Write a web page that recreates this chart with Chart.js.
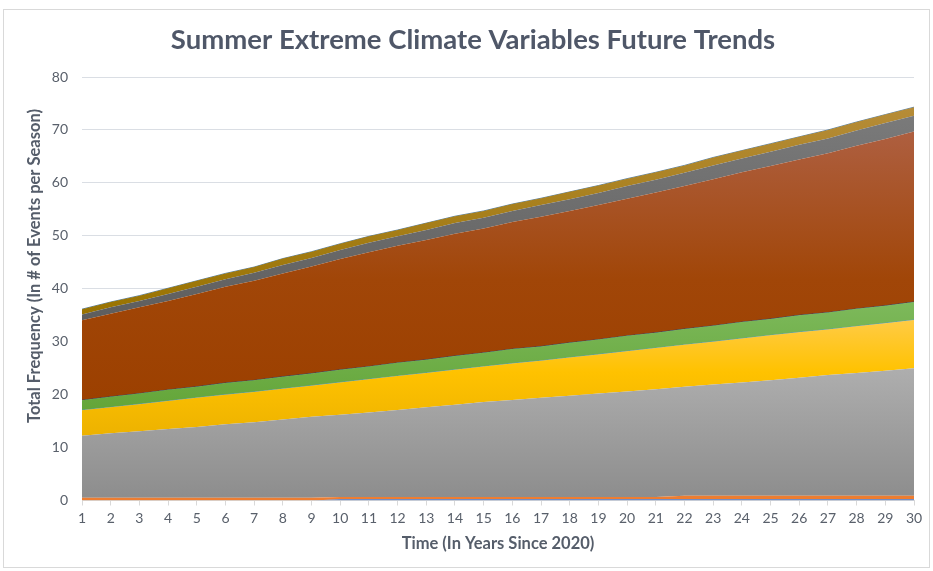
<!DOCTYPE html>
<html>
<head>
<meta charset="utf-8">
<title>Summer Extreme Climate Variables Future Trends</title>
<script src="https://cdn.jsdelivr.net/npm/chart.js@4.4.1/dist/chart.umd.min.js"></script>
<style>
  html, body { margin: 0; padding: 0; background: #ffffff; }
  #wrap { width: 933px; height: 571px; position: relative; }
</style>
</head>
<body>
<div id="wrap"><canvas id="chart" width="933" height="571"></canvas></div>
<script>
// Years since 2020 (category labels)
const years = ['1','2','3','4','5','6','7','8','9','10','11','12','13','14','15',
               '16','17','18','19','20','21','22','23','24','25','26','27','28','29','30'];

const chartTitle = 'Summer Extreme Climate Variables Future Trends';
const xTitle = 'Time (In Years Since 2020)';
const yTitle = 'Total Frequency (In # of Events per Season)';

// Events per season, one array per series (stacked bottom to top)
const series1 = [0,0,0,0,0,0,0,0,0,0.25,0.25,0.25,0.25,0.25,0.25,0.25,0.25,0.25,0.25,0.25,0.25,0.25,0.25,0.25,0.25,0.25,0.25,0.25,0.25,0.25];
const series2 = [0.5,0.5,0.5,0.5,0.5,0.5,0.5,0.5,0.5,0.4,0.4,0.4,0.4,0.4,0.4,0.4,0.4,0.4,0.4,0.4,0.4,0.65,0.65,0.65,0.65,0.65,0.65,0.65,0.65,0.65];
const series3 = [11.75,12.2,12.6,13.0,13.4,13.9,14.3,14.8,15.3,15.55,15.95,16.45,16.95,17.45,17.95,18.35,18.75,19.15,19.55,19.95,20.35,20.6,21.0,21.4,21.8,22.3,22.8,23.2,23.6,24.1];
const series4 = [4.8,4.9,5.1,5.3,5.5,5.6,5.7,5.8,5.9,6.1,6.3,6.4,6.5,6.6,6.7,6.9,7.0,7.2,7.4,7.6,7.8,7.9,8.1,8.3,8.5,8.6,8.6,8.8,9.0,9.1];
const series5 = [0,0,0,0,0,0,0,0,0,0,0,0,0,0,0,0,0,0,0,0,0,0,0,0,0,0,0,0,0,0];
const series6 = [1.9,2.0,2.0,2.1,2.1,2.2,2.2,2.3,2.3,2.4,2.4,2.5,2.5,2.6,2.6,2.7,2.7,2.8,2.8,2.9,2.9,3.0,3.0,3.1,3.1,3.2,3.2,3.3,3.3,3.4];
const series7 = [0,0,0,0,0,0,0,0,0,0,0,0,0,0,0,0,0,0,0,0,0,0,0,0,0,0,0,0,0,0];
const series8 = [15.1,15.7,16.3,16.8,17.5,18.2,18.8,19.5,20.2,20.9,21.6,22.1,22.6,23.1,23.5,24.0,24.5,24.9,25.4,25.9,26.5,27.0,27.7,28.3,28.9,29.4,30.1,30.8,31.5,32.2];
const series9 = [1.1,1.2,1.2,1.3,1.4,1.4,1.5,1.6,1.6,1.7,1.8,1.8,1.9,2.0,2.0,2.1,2.2,2.2,2.3,2.4,2.4,2.5,2.6,2.6,2.7,2.8,2.8,2.9,3.0,3.0];
const series10 = [1.0,1.0,1.0,1.1,1.1,1.1,1.1,1.2,1.2,1.2,1.2,1.2,1.3,1.3,1.3,1.3,1.3,1.4,1.4,1.4,1.4,1.4,1.5,1.5,1.5,1.5,1.6,1.6,1.6,1.6];
const series11 = [0,0,0,0,0,0,0,0,0,0,0,0,0,0,0,0,0,0,0,0,0,0,0,0,0,0,0,0,0,0];

const yTicks = { min: 0, max: 80, step: 10 };

const stackOrder = [series1, series2, series3, series4, series5, series6,
                    series7, series8, series9, series10, series11];

const fontFamily = 'Lato, "Open Sans", sans-serif';

// Vertical gradient spanning the band of one stacked series
function bandGradient(stops, index) {
  return function (ctx) {
    const chart = ctx.chart;
    const y = chart.scales && chart.scales.y;
    if (!chart.chartArea || !y) return stops[stops.length - 1][1];
    let lo = Infinity, hi = -Infinity;
    for (let i = 0; i < years.length; i++) {
      let base = 0;
      for (let s = 0; s < index; s++) base += stackOrder[s][i];
      const top = base + stackOrder[index][i];
      lo = Math.min(lo, base);
      hi = Math.max(hi, top);
    }
    const yTop = y.getPixelForValue(hi);
    const yBot = y.getPixelForValue(lo);
    const g = chart.ctx.createLinearGradient(0, yTop, 0, yBot);
    stops.forEach(([p, c]) => g.addColorStop(p, c));
    return g;
  };
}

function band(label, data, index, fill, extra) {
  return Object.assign({
    label, data,
    fill: index === 0 ? 'origin' : '-1',
    backgroundColor: fill,
    borderWidth: 0,
    pointRadius: 0,
    pointHoverRadius: 0,
    tension: 0
  }, extra || {});
}

const datasets = [
  band('Series 1', series1, 0, '#4472C4'),
  band('Series 2', series2, 1, '#ED7D31'),
  band('Series 3', series3, 2, bandGradient([[0, '#AEAEAE'], [1, '#8D8D8D']], 2)),
  band('Series 4', series4, 3, bandGradient([[0, '#FFCB45'], [0.45, '#FFC200'], [1, '#EDB200']], 3)),
  band('Series 5', series5, 4, 'rgba(91,155,213,0.5)', { borderWidth: 1, borderColor: 'rgba(91,155,213,0.8)' }),
  band('Series 6', series6, 5, bandGradient([[0, '#7DB95B'], [1, '#63A538']], 5)),
  band('Series 7', series7, 6, 'rgba(38,68,120,0.5)', { borderWidth: 1, borderColor: 'rgba(38,68,120,0.8)' }),
  band('Series 8', series8, 7, bandGradient([[0, '#AE5F40'], [0.55, '#A14608'], [1, '#9C4000']], 7)),
  band('Series 9', series9, 8, bandGradient([[0, '#7A7A7A'], [1, '#5E5E5E']], 8)),
  band('Series 10', series10, 9, bandGradient([[0, '#B68C38'], [1, '#997300']], 9)),
  band('Series 11', series11, 10, 'rgba(37,94,145,0.5)', { borderWidth: 1, borderColor: 'rgba(37,94,145,0.75)' })
];

// Frame, chart title and vertical axis title
const decorations = {
  id: 'decorations',
  beforeDraw(chart) {
    const ctx = chart.ctx;
    ctx.save();
    ctx.fillStyle = '#ffffff';
    ctx.fillRect(0, 0, chart.width, chart.height);
    ctx.strokeStyle = '#D9D9D9';
    ctx.lineWidth = 1;
    ctx.strokeRect(3.5, 9.5, 926, 558);
    ctx.restore();
  },
  afterDraw(chart) {
    const ctx = chart.ctx;
    ctx.save();
    ctx.fillStyle = '#4f5768';
    ctx.font = 'bold 27.5px ' + fontFamily;
    ctx.textAlign = 'center';
    ctx.textBaseline = 'middle';
    ctx.fillText(chartTitle, 473, 40);

    ctx.fillStyle = '#555d6a';
    ctx.font = 'bold 16.5px ' + fontFamily;
    ctx.translate(35, 266);
    ctx.rotate(-Math.PI / 2);
    ctx.fillText(yTitle, 0, 0);
    ctx.restore();
  }
};

new Chart(document.getElementById('chart'), {
  type: 'line',
  data: { labels: years, datasets },
  plugins: [decorations],
  options: {
    responsive: false,
    animation: false,
    layout: { padding: { left: 12, right: 19, top: 77, bottom: 0 } },
    plugins: {
      legend: { display: false },
      title: { display: false },
      tooltip: { enabled: false }
    },
    elements: { line: { borderJoinStyle: 'miter' } },
    scales: {
      x: {
        type: 'category',
        offset: false,
        grid: {
          drawOnChartArea: false,
          drawTicks: true,
          tickLength: 5,
          color: '#D9D9D9'
        },
        border: { display: true, color: '#D9D9D9' },
        ticks: {
          color: '#59606b',
          font: { family: fontFamily, size: 14 },
          padding: 5,
          maxRotation: 0,
          autoSkip: false
        },
        title: {
          display: true,
          text: xTitle,
          color: '#555d6a',
          font: { family: fontFamily, size: 16.5, weight: 'bold' },
          padding: { top: 0, bottom: 17 }
        },
        afterFit(scale) { scale.height = 70.5; }
      },
      y: {
        stacked: true,
        min: yTicks.min,
        max: yTicks.max,
        grid: { color: '#DADEE4', drawTicks: false },
        border: { display: false },
        ticks: {
          stepSize: yTicks.step,
          color: '#59606b',
          font: { family: fontFamily, size: 14 },
          padding: 14
        },
        afterFit(scale) { scale.width = 70; }
      }
    }
  }
});
</script>
</body>
</html>
